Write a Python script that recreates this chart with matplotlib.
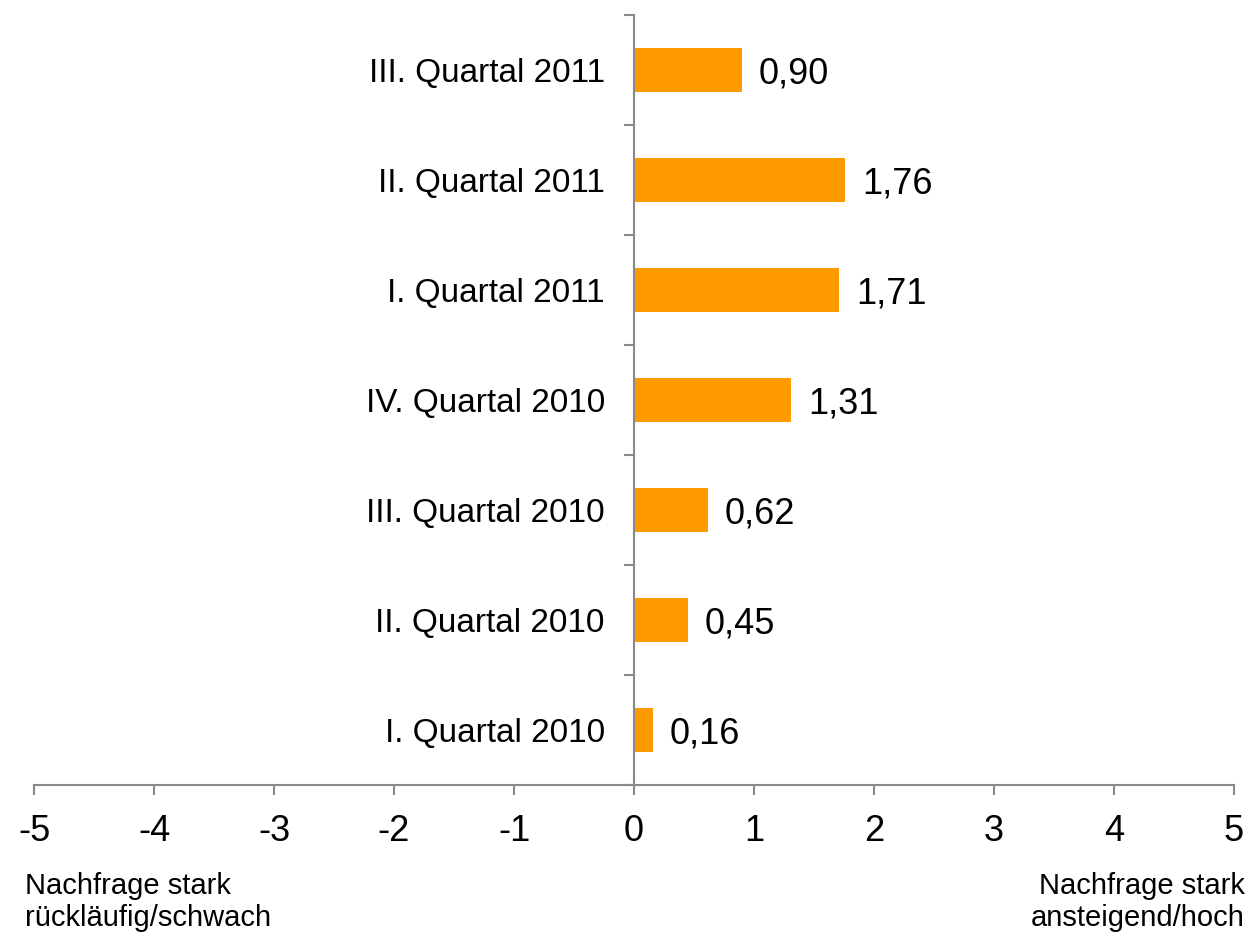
import matplotlib
matplotlib.use("Agg")
import matplotlib.pyplot as plt
import numpy as np

# Data (bottom to top)
quarters = ["I. Quartal 2010", "II. Quartal 2010", "III. Quartal 2010", "IV. Quartal 2010",
            "I. Quartal 2011", "II. Quartal 2011", "III. Quartal 2011"]
values = [0.16, 0.45, 0.62, 1.31, 1.71, 1.76, 0.90]
x_ticks = [-5, -4, -3, -2, -1, 0, 1, 2, 3, 4, 5]

bar_color = "#FF9900"
axis_grey = "#898989"

plt.rcParams['font.family'] = ['Liberation Sans', 'DejaVu Sans']

fig = plt.figure(figsize=(12.49, 9.40), dpi=100)
ax = fig.add_axes([34 / 1249, 1 - 785 / 940, 1200 / 1249, 770 / 940])

pos = np.arange(len(quarters))
ax.barh(pos, values, height=0.4, color=bar_color, zorder=2)

# Value labels with German decimal comma
for y, v in zip(pos, values):
    ax.annotate(f"{v:.2f}".replace(".", ","), xy=(v, y), xytext=(12, 0),
                textcoords="offset points", ha="left", va="center_baseline",
                fontsize=26, color="black")

ax.set_xlim(-5, 5)
ax.set_ylim(-0.5, len(quarters) - 0.5)

# Spines: vertical axis at x=0
for side in ["top", "right"]:
    ax.spines[side].set_visible(False)
ax.spines['left'].set_position(('data', 0))
for side in ["left", "bottom"]:
    ax.spines[side].set_color(axis_grey)
    ax.spines[side].set_linewidth(1.5)

ax.set_xticks(x_ticks)
ax.set_xticklabels([str(t) for t in x_ticks])
ax.tick_params(axis='x', direction='out', length=7, width=1.5, color=axis_grey,
               labelsize=26, pad=14)

# Category boundaries as major ticks, labels on minor ticks at bar centres
ax.set_yticks(np.arange(-0.5, len(quarters), 1.0))
ax.set_yticklabels([])
ax.set_yticks(pos, minor=True)
ax.set_yticklabels(quarters, minor=True)
ax.tick_params(axis='y', which='major', direction='out', length=7, width=1.5, color=axis_grey)
ax.tick_params(axis='y', which='minor', length=0, labelsize=24, pad=21)

fig.text(25 / 1249, 1 - 872 / 940, "Nachfrage stark\nrückläufig/schwach",
         ha="left", va="top", fontsize=21, linespacing=1.17)
fig.text(1245 / 1249, 1 - 872 / 940, "Nachfrage stark\nansteigend/hoch",
         ha="right", va="top", fontsize=21, linespacing=1.17)

fig.savefig("out.png", dpi=100, facecolor="white")
plt.close(fig)
